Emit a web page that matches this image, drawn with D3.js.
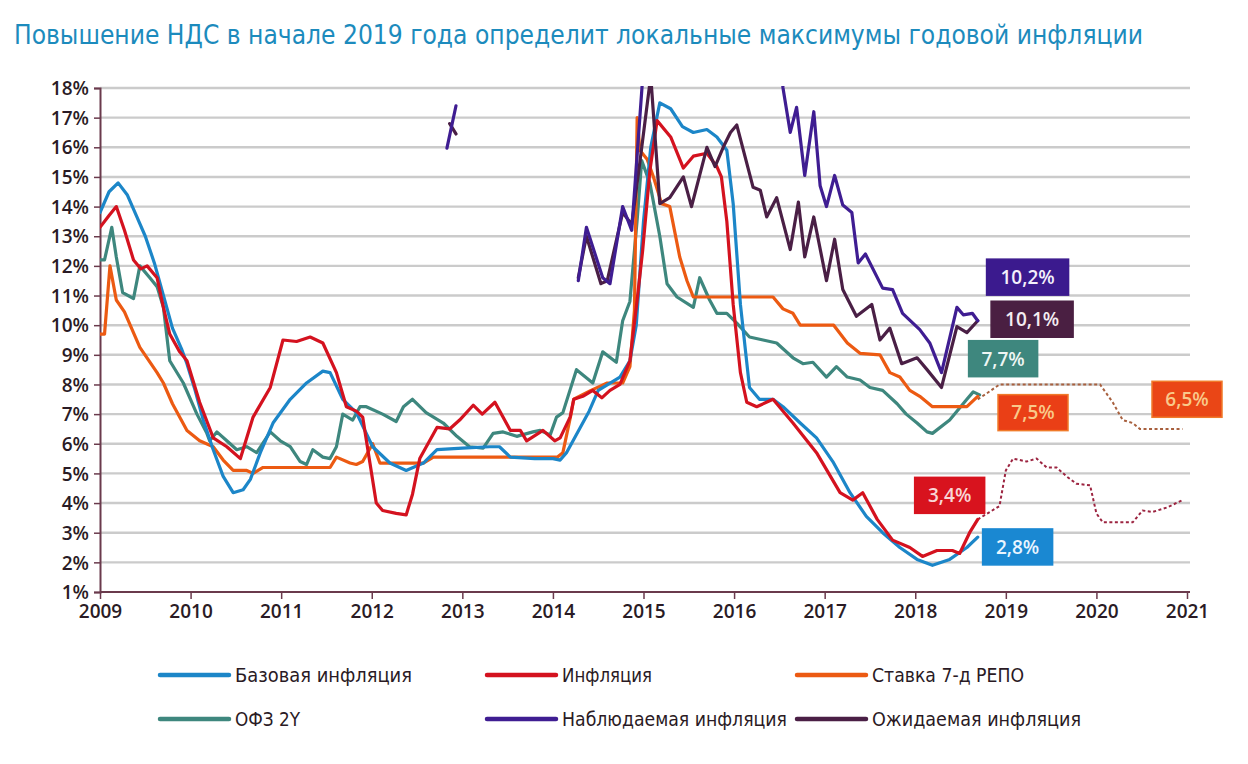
<!DOCTYPE html>
<html><head><meta charset="utf-8">
<script src="https://cdnjs.cloudflare.com/ajax/libs/d3/7.8.5/d3.min.js"></script>
<style>
html,body{margin:0;padding:0;background:#fff;}
svg{display:block;}
</style></head>
<body>
<svg id="chart" width="1248" height="764"></svg>
<script>
// ---------------- DATA ----------------
const titleText = "Повышение НДС в начале 2019 года определит локальные максимумы годовой инфляции";
const yTicks = [1,2,3,4,5,6,7,8,9,10,11,12,13,14,15,16,17,18];
const xTicks = [2009,2010,2011,2012,2013,2014,2015,2016,2017,2018,2019,2020,2021];

const seriesNames = ["Базовая инфляция","Инфляция","Ставка 7-д РЕПО","ОФЗ 2Y","Наблюдаемая инфляция","Ожидаемая инфляция"];

const baseInfl = [[2009.0,13.8],[2009.1,14.5],[2009.2,14.8],[2009.3,14.4],[2009.4,13.7],[2009.5,13.0],[2009.6,12.1],[2009.7,11.0],[2009.8,9.9],[2009.9,9.2],[2009.96,8.7],[2010.05,7.8],[2010.14,6.8],[2010.25,5.8],[2010.36,4.9],[2010.47,4.35],[2010.58,4.45],[2010.66,4.8],[2010.77,5.7],[2010.91,6.7],[2011.1,7.5],[2011.28,8.05],[2011.46,8.45],[2011.54,8.4],[2011.68,7.5],[2011.83,7.05],[2012.01,5.9],[2012.2,5.35],[2012.38,5.1],[2012.57,5.35],[2012.72,5.8],[2013.0,5.85],[2013.3,5.9],[2013.41,5.9],[2013.53,5.55],[2013.8,5.5],[2014.0,5.5],[2014.08,5.45],[2014.15,5.7],[2014.4,7.1],[2014.5,7.8],[2014.74,8.25],[2014.85,8.8],[2014.92,10.0],[2015.0,13.5],[2015.08,16.0],[2015.18,17.5],[2015.3,17.3],[2015.43,16.7],[2015.55,16.5],[2015.7,16.6],[2015.81,16.35],[2015.92,15.9],[2015.99,14.1],[2016.07,10.7],[2016.17,7.9],[2016.28,7.5],[2016.43,7.5],[2016.54,7.25],[2016.73,6.7],[2016.91,6.2],[2017.09,5.4],[2017.28,4.35],[2017.46,3.55],[2017.64,3.0],[2017.83,2.5],[2018.02,2.1],[2018.19,1.9],[2018.38,2.1],[2018.57,2.5],[2018.69,2.85]];

const inflation = [[2009.0,13.3],[2009.1,13.7],[2009.18,14.0],[2009.27,13.2],[2009.37,12.2],[2009.45,11.9],[2009.52,12.0],[2009.63,11.6],[2009.7,10.6],[2009.77,9.7],[2009.88,9.1],[2009.96,8.8],[2010.1,7.4],[2010.25,6.2],[2010.4,5.9],[2010.55,5.5],[2010.69,6.9],[2010.88,7.9],[2011.02,9.5],[2011.17,9.45],[2011.32,9.6],[2011.46,9.4],[2011.61,8.4],[2011.72,7.25],[2011.83,7.1],[2011.9,6.9],[2011.98,5.35],[2012.05,4.0],[2012.12,3.75],[2012.27,3.65],[2012.38,3.6],[2012.45,4.3],[2012.53,5.5],[2012.72,6.55],[2012.86,6.5],[2012.97,6.8],[2013.12,7.3],[2013.22,7.0],[2013.36,7.4],[2013.53,6.45],[2013.64,6.45],[2013.71,6.1],[2013.89,6.45],[2014.02,6.1],[2014.08,6.2],[2014.19,6.9],[2014.23,7.5],[2014.33,7.6],[2014.44,7.8],[2014.54,7.55],[2014.63,7.8],[2014.74,8.0],[2014.85,8.8],[2014.93,10.85],[2014.99,12.5],[2015.07,15.2],[2015.15,16.9],[2015.3,16.35],[2015.44,15.3],[2015.55,15.7],[2015.7,15.8],[2015.81,15.35],[2015.86,15.0],[2015.92,13.5],[2015.99,10.7],[2016.07,8.4],[2016.14,7.4],[2016.25,7.25],[2016.43,7.5],[2016.65,6.7],[2016.91,5.7],[2017.17,4.35],[2017.31,4.1],[2017.42,4.35],[2017.58,3.45],[2017.75,2.75],[2017.94,2.5],[2018.08,2.2],[2018.24,2.4],[2018.41,2.4],[2018.49,2.3],[2018.6,3.0],[2018.69,3.45]];

const repo = [[2009.0,9.7],[2009.05,9.7],[2009.11,12.0],[2009.18,10.85],[2009.27,10.45],[2009.44,9.25],[2009.63,8.4],[2009.7,8.05],[2009.8,7.35],[2009.96,6.45],[2010.1,6.1],[2010.25,5.9],[2010.36,5.45],[2010.47,5.1],[2010.62,5.1],[2010.69,5.0],[2010.8,5.2],[2011.54,5.2],[2011.61,5.55],[2011.76,5.35],[2011.83,5.3],[2011.9,5.4],[2012.01,6.0],[2012.09,5.35],[2012.57,5.35],[2012.68,5.55],[2014.05,5.55],[2014.11,5.7],[2014.2,7.0],[2014.23,7.5],[2014.42,7.8],[2014.6,8.05],[2014.77,8.05],[2014.85,8.6],[2014.9,10.5],[2014.93,17.0],[2014.96,15.9],[2015.04,15.6],[2015.11,15.0],[2015.2,14.1],[2015.29,14.0],[2015.4,12.3],[2015.48,11.5],[2015.55,10.95],[2016.43,10.95],[2016.54,10.55],[2016.65,10.4],[2016.73,10.0],[2017.1,10.0],[2017.25,9.4],[2017.39,9.05],[2017.61,9.0],[2017.72,8.4],[2017.83,8.25],[2017.94,7.8],[2018.05,7.6],[2018.19,7.25],[2018.57,7.25],[2018.69,7.6]];

const ofz2y = [[2009.0,12.2],[2009.05,12.2],[2009.13,13.3],[2009.18,12.3],[2009.25,11.1],[2009.37,10.9],[2009.44,12.0],[2009.55,11.6],[2009.63,11.3],[2009.7,10.6],[2009.77,8.8],[2009.92,8.05],[2010.07,7.0],[2010.18,6.35],[2010.21,6.1],[2010.29,6.4],[2010.4,6.1],[2010.51,5.8],[2010.62,5.9],[2010.73,5.7],[2010.88,6.4],[2010.99,6.1],[2011.1,5.9],[2011.21,5.4],[2011.28,5.3],[2011.35,5.8],[2011.46,5.55],[2011.54,5.5],[2011.61,5.9],[2011.68,7.0],[2011.79,6.8],[2011.87,7.25],[2011.94,7.25],[2012.12,7.0],[2012.27,6.75],[2012.35,7.25],[2012.45,7.5],[2012.6,7.05],[2012.79,6.7],[2012.94,6.25],[2013.08,5.9],[2013.23,5.85],[2013.34,6.35],[2013.45,6.4],[2013.6,6.25],[2013.78,6.4],[2013.86,6.45],[2013.97,6.3],[2014.04,6.9],[2014.11,7.05],[2014.26,8.5],[2014.44,8.05],[2014.55,9.1],[2014.7,8.75],[2014.77,10.15],[2014.85,10.8],[2014.93,13.55],[2014.98,15.55],[2015.07,14.8],[2015.18,13.0],[2015.26,11.4],[2015.37,10.95],[2015.55,10.6],[2015.62,11.6],[2015.73,10.85],[2015.81,10.4],[2015.92,10.4],[2016.03,10.07],[2016.17,9.6],[2016.32,9.5],[2016.47,9.4],[2016.65,8.9],[2016.76,8.7],[2016.87,8.75],[2017.02,8.25],[2017.13,8.6],[2017.25,8.25],[2017.39,8.15],[2017.5,7.9],[2017.64,7.8],[2017.8,7.35],[2017.9,7.0],[2018.02,6.7],[2018.13,6.4],[2018.19,6.35],[2018.38,6.8],[2018.57,7.5],[2018.64,7.75],[2018.71,7.65]];

const observedInfl = [[2012.83,15.97],[2012.93,17.4],[2012.95,null],[2014.28,11.5],[2014.37,13.3],[2014.55,11.6],[2014.63,11.4],[2014.77,14.0],[2014.87,13.2],[2014.99,18.3],[2015.03,19.5],[2015.05,null],[2016.5,19.5],[2016.54,18.0],[2016.62,16.5],[2016.69,17.35],[2016.78,15.05],[2016.88,17.2],[2016.95,14.7],[2017.02,14.0],[2017.11,15.05],[2017.2,14.05],[2017.3,13.8],[2017.37,12.1],[2017.45,12.4],[2017.64,11.25],[2017.75,11.2],[2017.86,10.4],[2018.05,9.85],[2018.16,9.4],[2018.29,8.4],[2018.46,10.6],[2018.53,10.35],[2018.63,10.4],[2018.69,10.15]];

const expectedInfl = [[2012.86,16.8],[2012.93,16.45],[2012.95,null],[2014.28,11.6],[2014.37,13.0],[2014.53,11.4],[2014.6,11.5],[2014.77,13.8],[2014.87,13.4],[2014.96,15.5],[2015.08,18.4],[2015.18,14.1],[2015.29,14.3],[2015.44,15.0],[2015.53,14.0],[2015.7,16.0],[2015.79,15.35],[2015.88,16.0],[2015.96,16.5],[2016.03,16.75],[2016.21,14.65],[2016.29,14.55],[2016.36,13.65],[2016.47,14.3],[2016.62,12.55],[2016.71,14.15],[2016.78,12.3],[2016.88,13.65],[2017.02,11.5],[2017.11,12.9],[2017.2,11.2],[2017.35,10.3],[2017.52,10.7],[2017.61,9.5],[2017.72,9.9],[2017.85,8.7],[2018.02,8.9],[2018.13,8.5],[2018.29,7.9],[2018.46,9.95],[2018.57,9.75],[2018.69,10.15]];

const repoForecast = [[2018.69,7.5],[2018.79,7.7],[2018.93,8.0],[2020.04,8.0],[2020.18,7.4],[2020.29,6.8],[2020.4,6.7],[2020.48,6.5],[2020.95,6.5]];
const inflForecast = [[2018.69,3.45],[2018.93,3.9],[2019.0,5.1],[2019.08,5.5],[2019.23,5.4],[2019.34,5.5],[2019.45,5.2],[2019.56,5.2],[2019.67,4.9],[2019.78,4.65],[2019.93,4.6],[2020.0,3.65],[2020.07,3.35],[2020.4,3.35],[2020.51,3.75],[2020.62,3.7],[2020.78,3.85],[2020.95,4.1]];

const calloutTexts = ["10,2%","10,1%","7,7%","7,5%","6,5%","3,4%","2,8%"];

// ---------------- STYLE / LAYOUT ----------------
const colors = {
  base:"#1c86c8", infl:"#d4121f", repo:"#ec5a12", ofz:"#3e877e",
  obs:"#3f1d92", exp:"#4a1f45"
};
const svg = d3.select("#chart");
const x = d3.scaleLinear().domain([2009, 2021]).range([100, 1187]);
const y = d3.scaleLinear().domain([1, 18]).range([592, 88]);

// title
svg.append("text")
  .attr("x", 14).attr("y", 44)
  .attr("font-family", "'Liberation Sans Narrow','DejaVu Sans Condensed','Roboto Condensed',sans-serif")
  .attr("font-size", 26)
  .attr("fill", "#1c8bbd")
  .attr("textLength", 1129).attr("lengthAdjust", "spacingAndGlyphs")
  .text(titleText);

// gridlines
svg.append("g").selectAll("line").data(yTicks.filter(d => d > 1)).join("line")
  .attr("x1", x(2009)).attr("x2", 1190)
  .attr("y1", d => y(d)).attr("y2", d => y(d))
  .attr("stroke", "#cbcbcb").attr("stroke-width", 2.4);

// axes
const axisColor = "#6a3a4c";
const yAxis = svg.append("g").attr("transform", `translate(${x(2009)},0)`)
  .call(d3.axisLeft(y).tickValues(yTicks).tickSize(6).tickFormat(d => d + "%"));
const xAxis = svg.append("g").attr("transform", `translate(0,${y(1)})`)
  .call(d3.axisBottom(x).tickValues(xTicks).tickSize(7).tickFormat(d3.format("d")));
xAxis.select(".domain").attr("d", `M${x(2009)},0H1190`);
[yAxis, xAxis].forEach(g => {
  g.select(".domain").attr("stroke", axisColor).attr("stroke-width", 2);
  g.selectAll(".tick line").attr("stroke", axisColor).attr("stroke-width", 1.5);
  g.selectAll(".tick text")
    .attr("font-family", "'Open Sans',sans-serif").attr("font-weight", 600)
    .attr("font-size", 19).attr("fill", "#2a1b25");
});
yAxis.selectAll(".tick text").attr("x", -11).attr("dy", "0.35em");
xAxis.selectAll(".tick text").attr("y", 13);

// clip
svg.append("clipPath").attr("id", "plotclip").append("rect")
  .attr("x", x(2009)).attr("y", y(18) - 2).attr("width", 1200 - x(2009)).attr("height", y(1) - y(18) + 2);

const line = d3.line().defined(d => d[1] != null).x(d => x(d[0])).y(d => y(d[1]));
const plot = svg.append("g").attr("clip-path", "url(#plotclip)");

const drawOrder = [
  [ofz2y, colors.ofz], [repo, colors.repo], [baseInfl, colors.base], [inflation, colors.infl],
  [expectedInfl, colors.exp], [observedInfl, colors.obs]
];
plot.append("path").datum(repoForecast).attr("d", line)
  .attr("fill", "none").attr("stroke", "#a8603e").attr("stroke-width", 2).attr("stroke-dasharray", "3,2.5");
plot.append("path").datum(inflForecast).attr("d", line)
  .attr("fill", "none").attr("stroke", "#9c2440").attr("stroke-width", 2).attr("stroke-dasharray", "3,2.5");
drawOrder.forEach(([data, c]) => {
  plot.append("path").datum(data).attr("d", line)
    .attr("fill", "none").attr("stroke", c).attr("stroke-width", 3.2)
    .attr("stroke-linejoin", "round").attr("stroke-linecap", "round");
});

// callouts (anchored in data units)
const callouts = [
  {t: calloutTexts[0], cx: 2019.24, cv: 11.62, w: 82, bg: "#3b1a8e", fg: "#f3f0fb", bd: "#3b1a8e"},
  {t: calloutTexts[1], cx: 2019.29, cv: 10.2, w: 82, bg: "#4a1f42", fg: "#f3ecf1", bd: "#4a1f42"},
  {t: calloutTexts[2], cx: 2018.97, cv: 8.87, w: 69, bg: "#3e877e", fg: "#eef6f4", bd: "#3e877e"},
  {t: calloutTexts[3], cx: 2019.30, cv: 7.05, w: 70, bg: "#ea3f16", fg: "#f9c98a", bd: "#f07a2a"},
  {t: calloutTexts[4], cx: 2021.0, cv: 7.5, w: 70, bg: "#ea4616", fg: "#f9c98a", bd: "#f07a2a"},
  {t: calloutTexts[5], cx: 2018.38, cv: 4.26, w: 70, bg: "#d8131e", fg: "#f8d6d6", bd: "#d8131e"},
  {t: calloutTexts[6], cx: 2019.13, cv: 2.52, w: 70, bg: "#1a88d2", fg: "#e9f5ff", bd: "#1a88d2"}
];
const cg = svg.append("g");
callouts.forEach(c => {
  const px = x(c.cx), py = y(c.cv), h = 36;
  cg.append("rect").attr("x", px - c.w / 2).attr("y", py - h / 2).attr("width", c.w).attr("height", h)
    .attr("fill", c.bg).attr("stroke", c.bd).attr("stroke-width", 1.5);
  cg.append("text").attr("x", px).attr("y", py).attr("dy", "0.36em").attr("text-anchor", "middle")
    .attr("font-family", "'Open Sans',sans-serif").attr("font-weight", 600).attr("font-size", 19)
    .attr("fill", c.fg).text(c.t);
});

// legend
const legendItems = [
  {name: seriesNames[0], c: colors.base, col: 0, row: 0, w: 177},
  {name: seriesNames[1], c: colors.infl, col: 1, row: 0, w: 90},
  {name: seriesNames[2], c: colors.repo, col: 2, row: 0, w: 152},
  {name: seriesNames[3], c: colors.ofz, col: 0, row: 1, w: 65},
  {name: seriesNames[4], c: colors.obs, col: 1, row: 1, w: 225},
  {name: seriesNames[5], c: colors.exp, col: 2, row: 1, w: 209}
];
const colX = [160, 487, 797], rowY = [675, 719];
const lg = svg.append("g");
legendItems.forEach(it => {
  const lx = colX[it.col], ly = rowY[it.row];
  lg.append("line").attr("x1", lx).attr("x2", lx + 69).attr("y1", ly).attr("y2", ly)
    .attr("stroke", it.c).attr("stroke-width", 4.5).attr("stroke-linecap", "round");
  lg.append("text").attr("x", lx + 75).attr("y", ly).attr("dy", "0.35em")
    .attr("font-family", "'Liberation Sans Narrow','DejaVu Sans Condensed','Roboto Condensed',sans-serif")
    .attr("font-size", 19).attr("fill", "#2a1a24")
    .attr("textLength", it.w).attr("lengthAdjust", "spacingAndGlyphs")
    .text(it.name);
});
</script>
</body></html>
